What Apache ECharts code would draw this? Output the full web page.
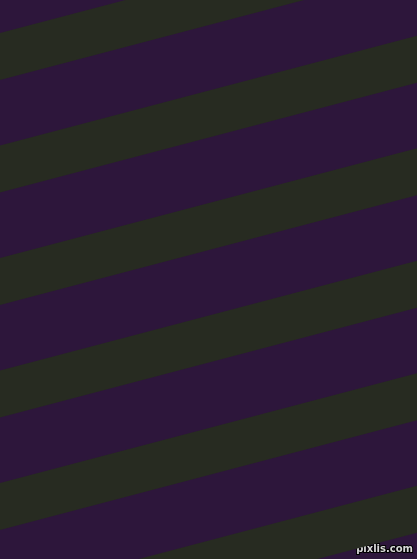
<!DOCTYPE html>
<html>
<head>
<meta charset="utf-8">
<script src="https://cdn.jsdelivr.net/npm/echarts@6/dist/echarts.min.js"></script>
<style>
html,body{margin:0;padding:0;background:#2d163b;}
#c{width:417px;height:559px;}
</style>
</head>
<body>
<div id="c"></div>
<script>
// Stripe edges (y in px at left edge x=0 and right edge x=417)
var stripeLeftTop = [33, 145.5, 258, 370.5, 483, 595.5];
var stripeRightTop = [-76.7, 35.8, 148.3, 260.8, 373.3, 485.8];
var stripeThickness = [47, 47, 47, 47, 47, 47];

var data = stripeLeftTop.map(function (v, i) {
  return [v, stripeRightTop[i], stripeThickness[i]];
});

var chart = echarts.init(document.getElementById('c'), null, {renderer: 'canvas'});
chart.setOption({
  backgroundColor: '#2d163b',
  animation: false,
  grid: {left: 0, right: 0, top: 0, bottom: 0},
  xAxis: {type: 'value', min: 0, max: 417, show: false},
  yAxis: {type: 'value', min: 0, max: 559, inverse: true, show: false},
  series: [{
    type: 'custom',
    clip: false,
    data: data,
    renderItem: function (params, api) {
      var lt = api.value(0), rt = api.value(1), th = api.value(2);
      var pts = [
        api.coord([0, lt]),
        api.coord([417, rt]),
        api.coord([417, rt + th]),
        api.coord([0, lt + th])
      ];
      return {
        type: 'polygon',
        shape: {points: pts},
        style: {fill: '#272b21'}
      };
    }
  }],
  graphic: [{
    type: 'text',
    right: 3,
    bottom: 4,
    style: {
      text: 'pixlis.com',
      fill: '#d8d8d8',
      stroke: '#000',
      lineWidth: 2,
      font: 'bold 10px "DejaVu Sans"'
    }
  }]
});
</script>
</body>
</html>
